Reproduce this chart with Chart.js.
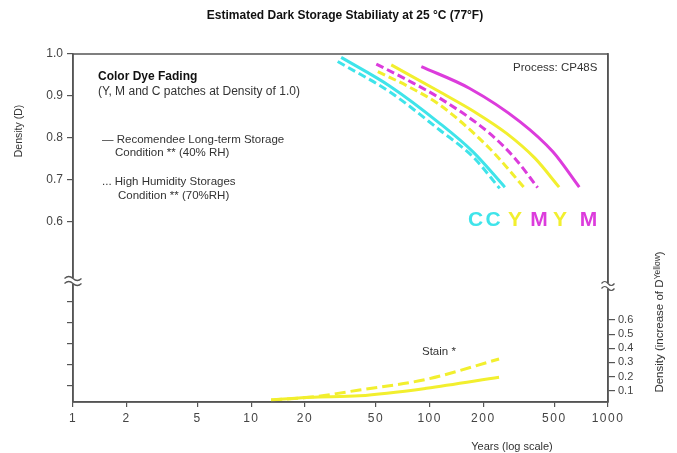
<!DOCTYPE html>
<html>
<head>
<meta charset="utf-8">
<script src="https://cdn.jsdelivr.net/npm/chart.js@4/dist/chart.umd.min.js"></script>
<style>
  html, body { margin: 0; padding: 0; background: #fff; }
  #wrap { width: 677px; height: 453px; }
</style>
</head>
<body>
<div id="wrap"><canvas id="c" width="677" height="453"></canvas></div>
<script>
// ---------- DATA ----------
const xTickValues = [1, 2, 5, 10, 20, 50, 100, 200, 500, 1000];
const leftTickValues = [1.0, 0.9, 0.8, 0.7, 0.6];
const leftMinorTicks = [0.41, 0.36, 0.31, 0.26, 0.21];   // unlabelled ticks in the lower panel
const rightTickValues = [0.1, 0.2, 0.3, 0.4, 0.5, 0.6];

// Dye fading (Density D vs years), 40% RH = solid, 70% RH = dashed
const cyan40Years    = [31.9, 59.6, 113.8, 175, 264];
const cyan40D        = [0.992, 0.924, 0.835, 0.767, 0.683];
const cyan70Years    = [30.5, 59.6, 113.8, 175, 247];
const cyan70D        = [0.982, 0.910, 0.819, 0.755, 0.680];
const yellow70Years  = [51.2, 77.2, 113.8, 217, 342];
const yellow70D      = [0.958, 0.921, 0.879, 0.775, 0.680];
const magenta70Years = [50.2, 75, 113.8, 217, 300, 403];
const magenta70D     = [0.976, 0.938, 0.895, 0.811, 0.752, 0.682];
const yellow40Years  = [60.9, 113.8, 179, 270, 389, 532];
const yellow40D      = [0.974, 0.910, 0.862, 0.811, 0.752, 0.683];
const magenta40Years = [89.8, 167.8, 320.5, 491, 690];
const magenta40D     = [0.970, 0.918, 0.839, 0.767, 0.683];

// Yellow stain (increase of D-yellow) vs years
const stainYears   = [12.9, 21.2, 40.4, 95.8, 245];
const stain40      = [0.034, 0.053, 0.064, 0.117, 0.195];
const stain70      = [0.034, 0.053, 0.105, 0.180, 0.324];

// ---------- STYLE ----------
const CYAN = '#3fe4ea', YELLOW = '#f2ef2e', MAGENTA = '#dc3cdc';
const AXIS = '#555555', TXT = '#333333';
const FONT = '"Liberation Sans", Arial, Helvetica, sans-serif';

function pts(xs, ys) { return xs.map((x, i) => ({ x: x, y: ys[i] })); }

function ds(xs, ys, color, dashed, axis, dash) {
  return {
    data: pts(xs, ys),
    borderColor: color,
    backgroundColor: color,
    borderWidth: 3,
    borderDash: dashed ? (dash || [8, 4]) : [],
    pointRadius: 0,
    cubicInterpolationMode: 'monotone',
    fill: false,
    yAxisID: axis
  };
}

const datasets = [
  ds(cyan70Years, cyan70D, CYAN, true, 'y'),
  ds(cyan40Years, cyan40D, CYAN, false, 'y'),
  ds(yellow70Years, yellow70D, YELLOW, true, 'y'),
  ds(magenta70Years, magenta70D, MAGENTA, true, 'y'),
  ds(yellow40Years, yellow40D, YELLOW, false, 'y'),
  ds(magenta40Years, magenta40D, MAGENTA, false, 'y'),
  ds(stainYears, stain70, YELLOW, true, 'y1', [11, 5]),
  ds(stainYears, stain40, YELLOW, false, 'y1')
];

const decor = {
  id: 'decor',
  afterDraw(chart) {
    const ctx = chart.ctx;
    const a = chart.chartArea;
    ctx.save();
    ctx.letterSpacing = '0px';
    // frame
    ctx.strokeStyle = AXIS;
    ctx.lineWidth = 1.5;
    ctx.strokeRect(a.left, a.top, a.right - a.left, a.bottom - a.top);

    // axis breaks
    function brk(x, y, w) {
      ctx.fillStyle = '#fff';
      ctx.fillRect(x - 2, y - 3, 4, 6);
      ctx.strokeStyle = AXIS;
      ctx.lineWidth = 1.2;
      [y - 2.5, y + 2.5].forEach(yy => {
        const x0 = x - w / 2;
        ctx.beginPath();
        ctx.moveTo(x0, yy);
        ctx.quadraticCurveTo(x0 + w / 4, yy - 4, x0 + w / 2, yy);
        ctx.quadraticCurveTo(x0 + 3 * w / 4, yy + 4, x0 + w, yy);
        ctx.stroke();
      });
    }
    brk(a.left, 281, 17);
    brk(a.right, 286, 13);

    // title
    ctx.fillStyle = '#111';
    ctx.textBaseline = 'middle';
    ctx.textAlign = 'center';
    ctx.font = 'bold 12px ' + FONT;
    ctx.fillText('Estimated Dark Storage Stabiliaty at 25 °C (77°F)', 345, 16);

    // in-plot annotations
    ctx.textAlign = 'left';
    ctx.font = 'bold 12px ' + FONT;
    ctx.fillStyle = '#111';
    ctx.fillText('Color Dye Fading', 98, 77);
    ctx.font = '12px ' + FONT;
    ctx.fillStyle = TXT;
    ctx.fillText('(Y, M and C patches at Density of 1.0)', 98, 92);
    ctx.font = '11.5px ' + FONT;
    ctx.fillText('— Recomendee Long-term Storage', 102, 140);
    ctx.fillText('Condition ** (40% RH)', 115, 153);
    ctx.fillText('... High Humidity Storages', 102, 182);
    ctx.fillText('Condition ** (70%RH)', 118, 196);
    ctx.fillText('Process: CP48S', 513, 68);
    ctx.fillText('Stain *', 422, 352);

    // big colour letters
    ctx.font = 'bold 21px ' + FONT;
    ctx.textAlign = 'center';
    [['C', 475.5, CYAN], ['C', 493, CYAN], ['Y', 515, YELLOW], ['M', 539, MAGENTA], ['Y', 560, YELLOW], ['M', 588.5, MAGENTA]]
      .forEach(l => { ctx.fillStyle = l[2]; ctx.fillText(l[0], l[1], 220); });

    // axis titles
    ctx.fillStyle = TXT;
    ctx.font = '11px ' + FONT;
    ctx.textAlign = 'center';
    ctx.fillText('Years (log scale)', 512, 447);

    ctx.save();
    ctx.translate(19, 131);
    ctx.rotate(-Math.PI / 2);
    ctx.font = '10.5px ' + FONT;
    ctx.fillText('Density (D)', 0, 0);
    ctx.restore();

    ctx.save();
    ctx.translate(660, 322);
    ctx.rotate(-Math.PI / 2);
    const p1 = 'Density (increase of D', p2 = 'Yellow', p3 = ')';
    ctx.font = '11.5px ' + FONT;
    const w1 = ctx.measureText(p1).width, w3 = ctx.measureText(p3).width;
    ctx.font = '8.5px ' + FONT;
    const w2 = ctx.measureText(p2).width;
    let sx = -(w1 + w2 + w3) / 2;
    ctx.textAlign = 'left';
    ctx.font = '11.5px ' + FONT;
    ctx.fillText(p1, sx, 0);
    ctx.font = '8.5px ' + FONT;
    ctx.fillText(p2, sx + w1, -2);
    ctx.font = '11.5px ' + FONT;
    ctx.fillText(p3, sx + w1 + w2, 0);
    ctx.restore();

    ctx.restore();
  }
};

new Chart(document.getElementById('c'), {
  type: 'line',
  data: { datasets: datasets },
  plugins: [decor],
  options: {
    responsive: false,
    animation: false,
    layout: { padding: { top: 54, left: 0, right: 0, bottom: 0 } },
    plugins: { legend: { display: false }, tooltip: { enabled: false }, title: { display: false } },
    scales: {
      x: {
        type: 'logarithmic',
        min: 1, max: 1000,
        afterBuildTicks(s) { s.ticks = xTickValues.map(v => ({ value: v })); },
        afterFit(s) {
          s.height = 51;
          if (!s._lsWrapped) {
            const orig = s.drawLabels.bind(s);
            s.drawLabels = function (area) {
              const c = this.ctx; c.save(); c.letterSpacing = '1.5px'; orig(area); c.restore();
            };
            s._lsWrapped = true;
          }
        },
        ticks: { autoSkip: false, maxRotation: 0, padding: 4, color: '#444', font: { family: FONT, size: 12 },
                 callback: v => String(v) },
        grid: { display: true, drawOnChartArea: false, drawTicks: true, tickLength: 5, color: AXIS, lineWidth: 1.2 },
        border: { display: true, color: AXIS, width: 1.5 }
      },
      y: {
        type: 'linear', position: 'left',
        min: 0.1714, max: 1.0,
        afterBuildTicks(s) { s.ticks = leftTickValues.concat(leftMinorTicks).map(v => ({ value: v })); },
        afterFit(s) { s.width = 73; },
        ticks: { autoSkip: false, padding: 4, color: '#444', font: { family: FONT, size: 12 },
                 callback: v => (leftTickValues.indexOf(v) >= 0 ? v.toFixed(1) : '') },
        grid: { display: true, drawOnChartArea: false, drawTicks: true, tickLength: 6, color: AXIS, lineWidth: 1.2 },
        border: { display: true, color: AXIS, width: 1.5 }
      },
      y1: {
        type: 'linear', position: 'right',
        min: 0.0198, max: 2.4827,
        afterBuildTicks(s) { s.ticks = rightTickValues.map(v => ({ value: v })); },
        afterFit(s) { s.width = 69; },
        ticks: { autoSkip: false, padding: 3, color: '#444', font: { family: FONT, size: 11 },
                 callback: v => v.toFixed(1) },
        grid: { display: true, drawOnChartArea: false, drawTicks: true, tickLength: 7, color: AXIS, lineWidth: 1.2 },
        border: { display: true, color: AXIS, width: 1.5 }
      }
    }
  }
});
</script>
</body>
</html>
